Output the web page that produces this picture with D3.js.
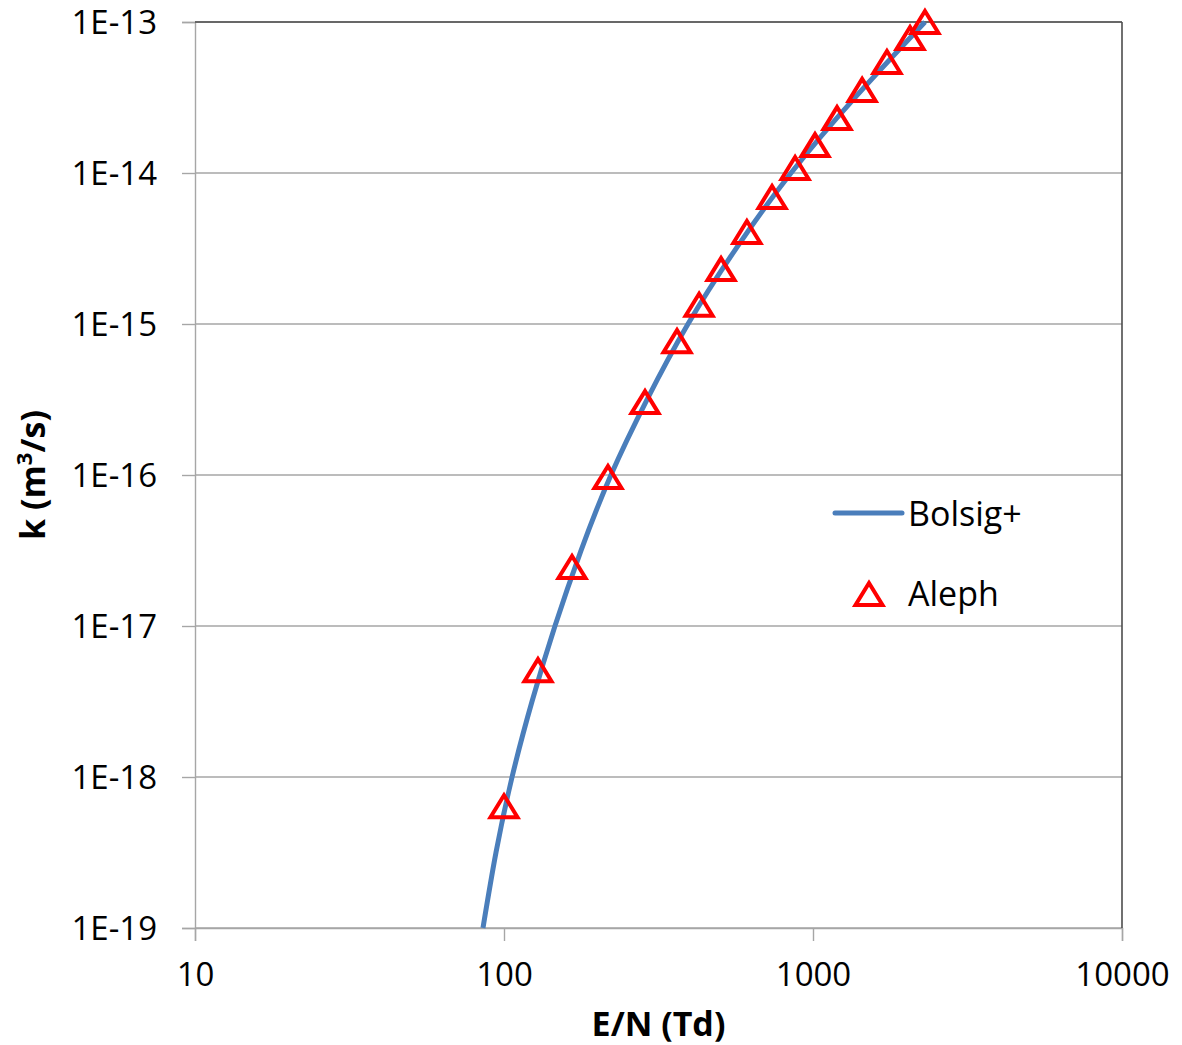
<!DOCTYPE html>
<html>
<head>
<meta charset="utf-8">
<script src="https://cdn.jsdelivr.net/npm/d3@7"></script>
<style>
  html, body { margin: 0; padding: 0; background: #fff; }
  svg text { font-family: "Open Sans", "Noto Sans", sans-serif; fill: #000; }
</style>
</head>
<body>
<svg id="chart" width="1182" height="1045"></svg>
<script>
// ---- data ----
const xTicks = [10, 100, 1000, 10000];
const xTickLabels = ["10", "100", "1000", "10000"];
const yTicks = [1e-19, 1e-18, 1e-17, 1e-16, 1e-15, 1e-14, 1e-13];
const yTickLabels = ["1E-19", "1E-18", "1E-17", "1E-16", "1E-15", "1E-14", "1E-13"];

// Bolsig+ curve
const bolsigEN = [85.5, 94.2, 106.2, 123.2, 146.2, 177.5, 221.9, 290.3, 393.9, 563.5, 848.8, 1367, 2304];
const bolsigK = [1e-19, 3.16e-19, 1e-18, 3.16e-18, 1e-17, 3.16e-17, 1e-16, 3.16e-16, 1e-15, 3.16e-15, 1e-14, 3.16e-14, 1e-13];

// Aleph points
const alephEN = [100, 128.8, 166, 217, 286, 363, 428, 504, 611, 737, 875, 1015, 1196, 1442, 1735, 2061, 2303];
const alephK = [6.4e-19, 5.1e-18, 2.46e-17, 9.7e-17, 3.04e-16, 7.7e-16, 1.34e-15, 2.31e-15, 4.07e-15, 6.93e-15, 1.08e-14, 1.53e-14, 2.31e-14, 3.55e-14, 5.43e-14, 7.83e-14, 1.0e-13];

const seriesNames = ["Bolsig+", "Aleph"];
const xTitle = "E/N (Td)";

// ---- layout ----
const svg = d3.select("#chart");
const L = 195, R = 1122, T = 22, B = 928;
const x = d3.scaleLog().domain([10, 10000]).range([L, R]);
const y = d3.scaleLog().domain([1e-19, 1e-13]).range([B, T]);

const gridColor = "#a6a6a6";
const fontSize = 33;

// gridlines
svg.append("g").selectAll("line").data(yTicks).join("line")
  .attr("x1", L).attr("x2", R)
  .attr("y1", d => y(d)).attr("y2", d => y(d))
  .attr("stroke", gridColor).attr("stroke-width", 1.4);

// y axis
const yAxis = d3.axisLeft(y).tickValues(yTicks)
  .tickFormat((d, i) => yTickLabels[i]).tickSize(13).tickPadding(25);
const gy = svg.append("g").attr("transform", `translate(${L},0)`).call(yAxis);
gy.select(".domain").attr("stroke", gridColor).attr("stroke-width", 1.4);
gy.selectAll(".tick line").attr("stroke", gridColor).attr("stroke-width", 1.4);
gy.selectAll(".tick text").attr("font-size", fontSize)
  .attr("font-family", "'Open Sans', sans-serif").attr("fill", "#000")
  .attr("dy", "0.36em");

// x axis
const xAxis = d3.axisBottom(x).tickValues(xTicks)
  .tickFormat((d, i) => xTickLabels[i]).tickSize(13).tickPadding(22);
const gx = svg.append("g").attr("transform", `translate(0,${B})`).call(xAxis);
gx.select(".domain").attr("stroke", gridColor).attr("stroke-width", 1.4);
gx.selectAll(".tick line").attr("stroke", gridColor).attr("stroke-width", 1.4);
gx.selectAll(".tick text").attr("font-size", fontSize)
  .attr("font-family", "'Open Sans', sans-serif").attr("fill", "#000");

// top & right border (darker)
svg.append("line").attr("x1", L).attr("x2", R).attr("y1", T).attr("y2", T)
  .attr("stroke", "#4d4d4d").attr("stroke-width", 1.6);
svg.append("line").attr("x1", R).attr("x2", R).attr("y1", T).attr("y2", B)
  .attr("stroke", "#4d4d4d").attr("stroke-width", 1.6);

// Bolsig+ line
const lineData = bolsigEN.map((v, i) => [v, bolsigK[i]]);
svg.append("path").datum(lineData)
  .attr("fill", "none").attr("stroke", "#4a7ebb").attr("stroke-width", 5)
  .attr("d", d3.line().x(d => x(d[0])).y(d => y(d[1])).curve(d3.curveNatural));

// triangle marker
const tw = 27, th = 22;
const triPath = `M0,${-th/2} L${tw/2},${th/2} L${-tw/2},${th/2} Z`;
const alephData = alephEN.map((v, i) => [v, alephK[i]]);
svg.append("g").selectAll("path").data(alephData).join("path")
  .attr("d", triPath)
  .attr("transform", d => `translate(${x(d[0])},${y(d[1])})`)
  .attr("fill", "none").attr("stroke", "#ff0000").attr("stroke-width", 4)
  .attr("stroke-linejoin", "miter");

// legend
svg.append("line").attr("x1", 835).attr("x2", 902).attr("y1", 513).attr("y2", 513)
  .attr("stroke", "#4a7ebb").attr("stroke-width", 5).attr("stroke-linecap", "round");
svg.append("text").attr("x", 908).attr("y", 526).attr("font-size", 34).text(seriesNames[0]);
svg.append("path").attr("d", triPath).attr("transform", "translate(869,594)")
  .attr("fill", "none").attr("stroke", "#ff0000").attr("stroke-width", 4);
svg.append("text").attr("x", 908).attr("y", 606).attr("font-size", 34).text(seriesNames[1]);

// axis titles
svg.append("text").attr("x", (L + R) / 2).attr("y", 1036)
  .attr("text-anchor", "middle").attr("font-size", 34).attr("font-weight", "bold")
  .text(xTitle);

const yt = svg.append("text")
  .attr("transform", `translate(45,${(T + B) / 2}) rotate(-90)`)
  .attr("text-anchor", "middle").attr("font-size", 34).attr("font-weight", "bold");
yt.append("tspan").text("k (m");
yt.append("tspan").attr("font-size", 22).attr("dy", -13).text("3");
yt.append("tspan").attr("dy", 13).text("/s)");
</script>
</body>
</html>
